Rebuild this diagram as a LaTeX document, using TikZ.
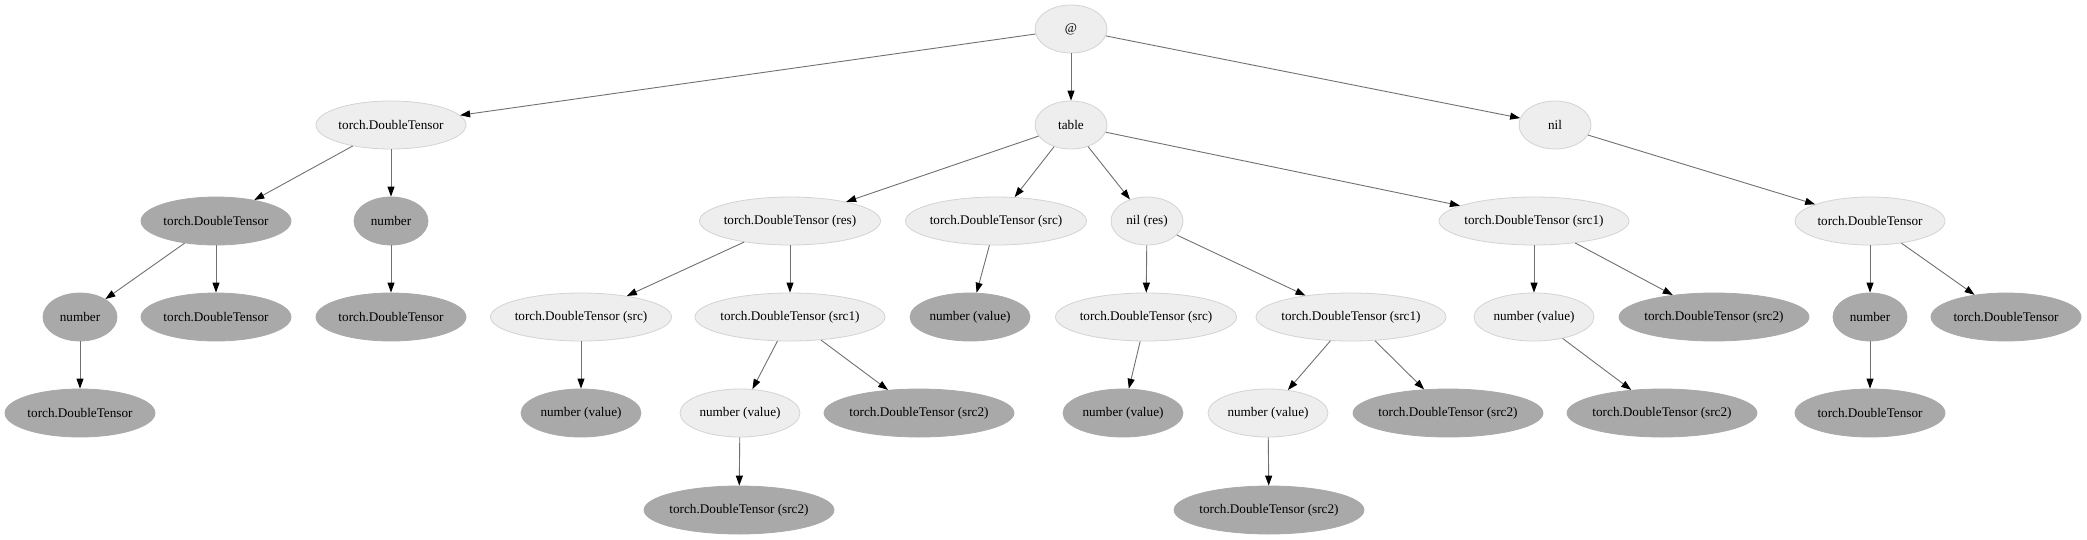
\documentclass[tikz,border=0pt]{standalone}
\usepackage{fontspec}
\setmainfont{Liberation Serif}
\usetikzlibrary{shapes.geometric,arrows.meta}
\definecolor{lightfill}{HTML}{EEEEEE}
\definecolor{lightline}{HTML}{D3D3D3}
\definecolor{darkfill}{HTML}{A9A9A9}
\definecolor{edgec}{HTML}{707070}
\newcommand\nlbl[1]{\makebox[0pt]{#1}}
\begin{document}
\begin{tikzpicture}[x=1pt,y=-1pt,
  nd/.style={ellipse, minimum height=48pt, inner sep=0pt, font=\fontsize{13.2}{15}\selectfont},
  lt/.style={nd, fill=lightfill, draw=lightline, line width=0.8pt},
  dk/.style={nd, fill=darkfill, draw=darkfill, line width=0.8pt},
  wtd/.style={minimum width=150pt},
  wres/.style={minimum width=181pt},
  wsrc/.style={minimum width=190pt},
  wnum/.style={minimum width=74pt},
  wval/.style={minimum width=120pt},
  wsm/.style={minimum width=72pt},
  edge/.style={draw=edgec, line width=0.9pt, -{Triangle[length=10pt,width=7pt,color=black,fill=black]}}
]
\useasboundingbox (0,0) rectangle (2087,539);
% root
\node[lt,wsm] (at) at (1071,29) {\nlbl{@}};
% left subtree
\node[lt,wtd] (a1) at (391,125) {\nlbl{torch.DoubleTensor}};
\node[dk,wtd] (a11) at (216,221) {\nlbl{torch.DoubleTensor}};
\node[dk,wnum] (a111) at (80,317) {\nlbl{number}};
\node[dk,wtd] (a1111) at (80,413) {\nlbl{torch.DoubleTensor}};
\node[dk,wtd] (a112) at (216,317) {\nlbl{torch.DoubleTensor}};
\node[dk,wnum] (a12) at (391,221) {\nlbl{number}};
\node[dk,wtd] (a121) at (391,317) {\nlbl{torch.DoubleTensor}};
% table subtree
\node[lt,wsm] (tb) at (1071,125) {\nlbl{table}};
\node[lt,wres] (r) at (790,221) {\nlbl{torch.DoubleTensor (res)}};
\node[lt,wres] (r1) at (581,317) {\nlbl{torch.DoubleTensor (src)}};
\node[dk,wval] (r11) at (581,413) {\nlbl{number (value)}};
\node[lt,wsrc] (r2) at (790,317) {\nlbl{torch.DoubleTensor (src1)}};
\node[lt,wval] (r21) at (740,413) {\nlbl{number (value)}};
\node[dk,wsrc] (r211) at (739,510) {\nlbl{torch.DoubleTensor (src2)}};
\node[dk,wsrc] (r22) at (919,413) {\nlbl{torch.DoubleTensor (src2)}};
\node[lt,wres] (s) at (996,221) {\nlbl{torch.DoubleTensor (src)}};
\node[dk,wval] (s1) at (970,317) {\nlbl{number (value)}};
\node[lt,wsm] (n) at (1147,221) {\nlbl{nil (res)}};
\node[lt,wres] (n1) at (1146,317) {\nlbl{torch.DoubleTensor (src)}};
\node[dk,wval] (n11) at (1123,413) {\nlbl{number (value)}};
\node[lt,wsrc] (n2) at (1351,317) {\nlbl{torch.DoubleTensor (src1)}};
\node[lt,wval] (n21) at (1268,413) {\nlbl{number (value)}};
\node[dk,wsrc] (n211) at (1269,510) {\nlbl{torch.DoubleTensor (src2)}};
\node[dk,wsrc] (n22) at (1448,413) {\nlbl{torch.DoubleTensor (src2)}};
\node[lt,wsrc] (q) at (1534,221) {\nlbl{torch.DoubleTensor (src1)}};
\node[lt,wval] (q1) at (1534,317) {\nlbl{number (value)}};
\node[dk,wsrc] (q11) at (1662,413) {\nlbl{torch.DoubleTensor (src2)}};
\node[dk,wsrc] (q2) at (1714,317) {\nlbl{torch.DoubleTensor (src2)}};
% right subtree
\node[lt,wsm] (nl) at (1555,125) {\nlbl{nil}};
\node[lt,wtd] (m) at (1870,221) {\nlbl{torch.DoubleTensor}};
\node[dk,wnum] (m1) at (1870,317) {\nlbl{number}};
\node[dk,wtd] (m11) at (1870,413) {\nlbl{torch.DoubleTensor}};
\node[dk,wtd] (m2) at (2006,317) {\nlbl{torch.DoubleTensor}};
% edges
\draw[edge] (at) -- (a1);
\draw[edge] (at) -- (tb);
\draw[edge] (at) -- (nl);
\draw[edge] (a1) -- (a11);
\draw[edge] (a1) -- (a12);
\draw[edge] (a11) -- (a111);
\draw[edge] (a11) -- (a112);
\draw[edge] (a111) -- (a1111);
\draw[edge] (a12) -- (a121);
\draw[edge] (tb) -- (r);
\draw[edge] (tb) -- (s);
\draw[edge] (tb) -- (n);
\draw[edge] (tb) -- (q);
\draw[edge] (r) -- (r1);
\draw[edge] (r) -- (r2);
\draw[edge] (r1) -- (r11);
\draw[edge] (r2) -- (r21);
\draw[edge] (r2) -- (r22);
\draw[edge] (r21) -- (r211);
\draw[edge] (s) -- (s1);
\draw[edge] (n) -- (n1);
\draw[edge] (n) -- (n2);
\draw[edge] (n1) -- (n11);
\draw[edge] (n2) -- (n21);
\draw[edge] (n2) -- (n22);
\draw[edge] (n21) -- (n211);
\draw[edge] (q) -- (q1);
\draw[edge] (q) -- (q2);
\draw[edge] (q1) -- (q11);
\draw[edge] (nl) -- (m);
\draw[edge] (m) -- (m1);
\draw[edge] (m) -- (m2);
\draw[edge] (m1) -- (m11);
\end{tikzpicture}
\end{document}
